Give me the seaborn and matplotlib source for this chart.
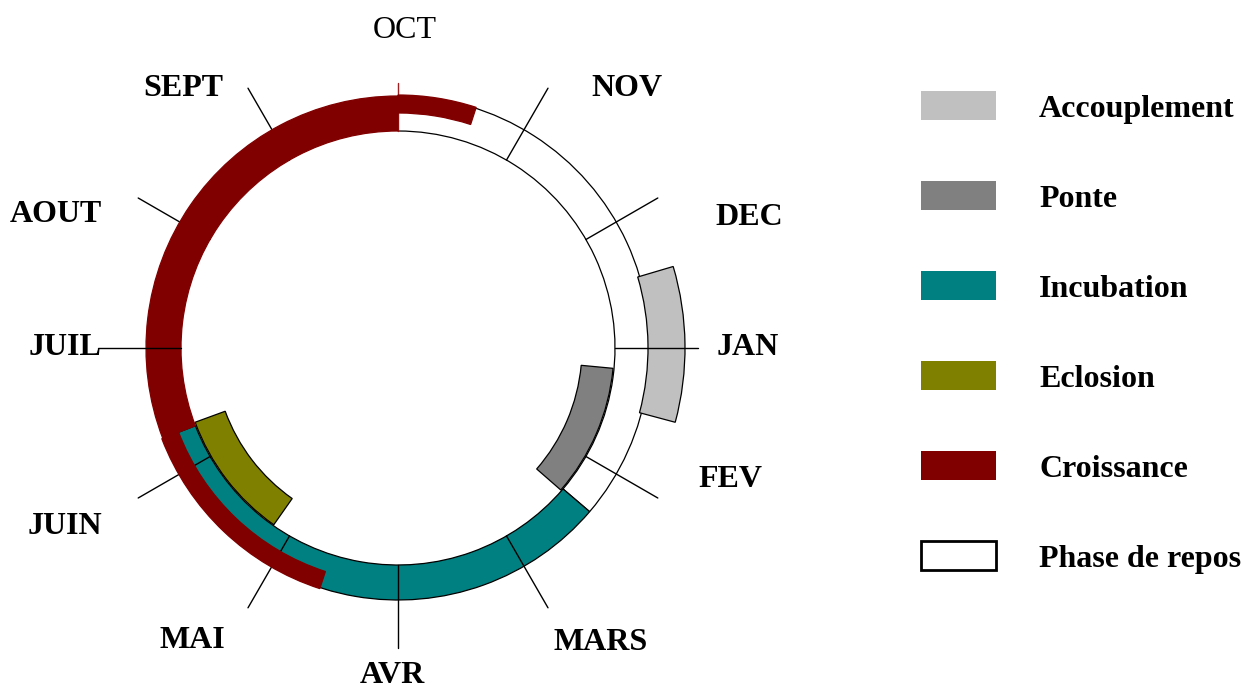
import numpy as np
import pandas as pd
import matplotlib
matplotlib.use("Agg")
import matplotlib.pyplot as plt
from matplotlib.patches import Patch
import seaborn as sns

OUT_PATH = "out.png"

# months clockwise from the top
MONTHS = ["OCT", "NOV", "DEC", "JAN", "FEV", "MARS",
          "AVR", "MAI", "JUIN", "JUIL", "AOUT", "SEPT"]

PHASES = ["Accouplement", "Ponte", "Incubation", "Eclosion",
          "Croissance", "Phase de repos"]
PHASE_COLORS = ["#c0c0c0", "#808080", "#008080", "#808000", "#800000", "#ffffff"]

# ring segments, in months from the start of OCT
SEG_PHASE = ["Phase de repos", "Accouplement", "Ponte", "Incubation",
             "Eclosion", "Croissance", "Croissance", "Croissance"]
SEG_START = [0.0, 2.45, 3.18, 4.35, 7.17, 6.60, 8.30, 0.00]
SEG_END   = [4.35, 3.50, 4.37, 8.30, 8.33, 8.30, 12.0, 0.60]
SEG_BAND  = ["main", "outer", "inner", "main", "inner",
             "main_out", "main", "main_out"]

# layout (pixel radii around the ring centre)
CENTER   = (398, 348)
RMAX     = 400
BANDS    = {"inner": (184, 216), "main": (217, 252),
            "outer": (250, 287), "main_out": (235, 253)}
TICK_R   = (217, 300)
OCT_R    = (217, 265)
TICKS_OVER_GROWTH = ["JUIL"]
LABEL_POS = [(0.04, 318), (1.38, 346), (2.32, 375), (3.00, 350),
             (3.72, 358), (4.85, 357), (6.03, 328), (7.17, 358),
             (8.06, 378), (9.00, 333), (9.71, 367), (10.68, 337)]
FONT = 23
DRAW_ORDER = ["Phase de repos", "Accouplement", "Ponte",
              "Incubation", "Eclosion", "Croissance"]


def to_theta(t):
    return np.asarray(t) * 2 * np.pi / 12


sns.set_theme(style="white")
plt.rcParams["font.family"] = ["Liberation Serif", "DejaVu Serif"]

W, H = 1260, 690
fig = plt.figure(figsize=(W / 100, H / 100), dpi=100)
fig.patch.set_facecolor("white")

cx, cy = CENTER
ax = fig.add_axes([(cx - RMAX) / W, (H - cy - RMAX) / H, 2 * RMAX / W, 2 * RMAX / H],
                  projection="polar")
ax.set_theta_zero_location("N")
ax.set_theta_direction(-1)

color_of = dict(zip(PHASES, PHASE_COLORS))
segs = pd.DataFrame({"phase": SEG_PHASE, "start": SEG_START,
                     "end": SEG_END, "band": SEG_BAND})
segs["order"] = segs["phase"].map({p: i for i, p in enumerate(DRAW_ORDER)})

for _, s in segs.sort_values("order", kind="stable").iterrows():
    r0, r1 = BANDS[s["band"]]
    fc = color_of[s["phase"]]
    growth = s["phase"] == "Croissance"
    ax.bar(to_theta(s["start"]), r1 - r0, width=to_theta(s["end"] - s["start"]),
           bottom=r0, align="edge", color=fc,
           edgecolor=fc if growth else "black", linewidth=0.9,
           zorder=6 if growth else 2 + s["order"] * 0.1)

# month ticks
rows = []
for i, m in enumerate(MONTHS):
    r0, r1 = OCT_R if m == "OCT" else TICK_R
    rows += [{"month": m, "theta": float(to_theta(i)), "r": r0},
             {"month": m, "theta": float(to_theta(i)), "r": r1}]
ticks = pd.DataFrame(rows)
pal = {m: ("#a02020" if m == "OCT" else "black") for m in MONTHS}
sns.lineplot(data=ticks, x="theta", y="r", hue="month", palette=pal,
             hue_order=MONTHS, estimator=None, sort=False,
             linewidth=1.0, legend=False, ax=ax)
for m, ln in zip(MONTHS, ax.lines):
    ln.set_zorder(7 if m in TICKS_OVER_GROWTH else 5)

# month labels
for m, (t, r) in zip(MONTHS, LABEL_POS):
    ax.text(to_theta(t), r, m, ha="center", va="center", fontsize=FONT,
            fontweight="normal" if m == "OCT" else "bold", color="black")

ax.set_ylim(0, RMAX)
ax.set_axis_off()

# legend
handles = [Patch(facecolor=c, edgecolor=("black" if p == "Phase de repos" else c),
                 linewidth=(2 if p == "Phase de repos" else 0), label=p)
           for p, c in zip(PHASES, PHASE_COLORS)]
fig.legend(handles=handles, loc="upper left",
           bbox_to_anchor=(921 / W, 1 - 91 / H), frameon=False,
           borderpad=0, borderaxespad=0,
           handlelength=2.35, handleheight=1.03, handletextpad=1.35,
           labelspacing=1.8, labelcolor="black",
           prop={"family": "Liberation Serif", "weight": "bold", "size": FONT})

fig.savefig(OUT_PATH, dpi=100)
plt.close(fig)
